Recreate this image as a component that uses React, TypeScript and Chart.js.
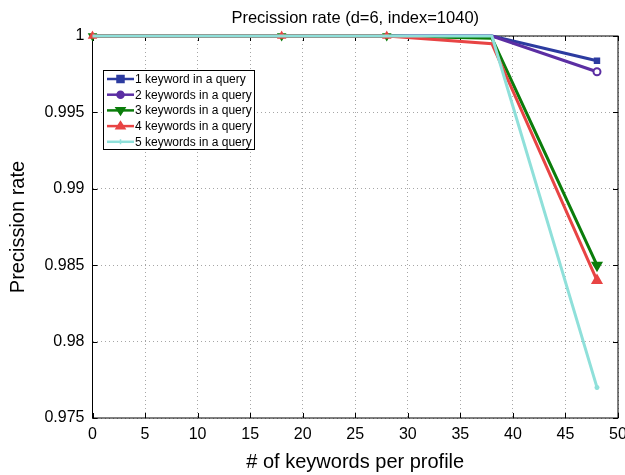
import React, { useEffect, useRef } from "react";
import { Chart, registerables } from "chart.js";

Chart.register(...registerables);

const xValues = [0, 18, 28, 38, 48];
const seriesLabels = [
  "1 keyword in a query",
  "2 keywords in a query",
  "3 keywords in a query",
  "4 keywords in a query",
  "5 keywords in a query",
];
const series1 = [1, 1, 1, 1, 0.99838];
const series2 = [1, 1, 1, 1, 0.99766];
const series3 = [1, 1, 1, 0.99985, 0.985];
const series4 = [1, 1, 1, 0.9995, 0.984];
const series5 = [1, 1, 1, 1, 0.977];
const xTicks = [0, 5, 10, 15, 20, 25, 30, 35, 40, 45, 50];
const yTicks = [0.975, 0.98, 0.985, 0.99, 0.995, 1];
const chartTitle = "Precission rate (d=6, index=1040)";

const allSeries = [series1, series2, series3, series4, series5];
const colors = ["#2c3ba0", "#5b2ea3", "#0b7d0b", "#e84444", "#8fe0da"];
const fills = ["#2c3ba0", "#ffffff", "#0b7d0b", "#e84444", "#8fe0da"];
const styles = ["rect", "circle", "triangle", "triangle", "star"];
const rotations = [0, 0, 180, 0, 0];
const legendRadii = [4, 4, 5, 5, 3];
const pointRadii = [
  [0, 0, 0, 0, 3.5],
  [0, 0, 0, 0, 3.5],
  [4, 4, 4, 0, 5.5],
  [4, 4, 4, 0, 5.5],
  [0, 0, 0, 0, 2.5],
];

const FONT = "'Liberation Sans', Arial, sans-serif";

function drawMarker(ctx: CanvasRenderingContext2D, i: number, x: number, y: number) {
  ctx.save();
  ctx.fillStyle = i === 1 ? colors[1] : fills[i];
  ctx.strokeStyle = colors[i];
  ctx.lineWidth = 1.5;
  const r = legendRadii[i] - 0.5;
  ctx.beginPath();
  if (i === 0) {
    ctx.rect(x - r, y - r, 2 * r, 2 * r);
  } else if (i === 1) {
    ctx.arc(x, y, r, 0, Math.PI * 2);
  } else if (i === 2) {
    ctx.moveTo(x - r, y - r * 0.6);
    ctx.lineTo(x + r, y - r * 0.6);
    ctx.lineTo(x, y + r);
    ctx.closePath();
  } else if (i === 3) {
    ctx.moveTo(x - r, y + r * 0.6);
    ctx.lineTo(x + r, y + r * 0.6);
    ctx.lineTo(x, y - r);
    ctx.closePath();
  } else {
    ctx.moveTo(x - r, y);
    ctx.lineTo(x + r, y);
    ctx.moveTo(x, y - r);
    ctx.lineTo(x, y + r);
  }
  ctx.fill();
  ctx.stroke();
  ctx.restore();
}

const boxPlugin = {
  id: "boxPlugin",
  beforeDatasetsDraw(chart: any) {
    const { ctx, chartArea } = chart;
    const { left, right, top, bottom } = chartArea;
    ctx.save();
    ctx.strokeStyle = "#000";
    ctx.lineWidth = 1;
    ctx.strokeRect(left, top, right - left, bottom - top);
    const xs = chart.scales.x;
    const ys = chart.scales.y;
    ctx.beginPath();
    xTicks.forEach((v) => {
      const px = Math.round(xs.getPixelForValue(v)) + 0.5;
      ctx.moveTo(px, bottom);
      ctx.lineTo(px, bottom - 5);
      ctx.moveTo(px, top);
      ctx.lineTo(px, top + 5);
    });
    yTicks.forEach((v) => {
      const py = Math.round(ys.getPixelForValue(v)) + 0.5;
      ctx.moveTo(left, py);
      ctx.lineTo(left + 5, py);
      ctx.moveTo(right, py);
      ctx.lineTo(right - 5, py);
    });
    ctx.stroke();
    ctx.restore();
  },
  afterDraw(chart: any) {
    const ctx: CanvasRenderingContext2D = chart.ctx;
    const { left, right } = chart.chartArea;
    ctx.save();
    ctx.font = `16.5px ${FONT}`;
    ctx.fillStyle = "#000";
    ctx.textAlign = "center";
    ctx.textBaseline = "middle";
    ctx.fillText(chartTitle, (left + right) / 2, 18);

    const bx = 103.5;
    const by = 70.5;
    const bw = 151;
    const bh = 79;
    ctx.fillStyle = "#fff";
    ctx.fillRect(bx, by, bw, bh);
    ctx.strokeStyle = "#000";
    ctx.lineWidth = 1;
    ctx.strokeRect(bx, by, bw, bh);
    ctx.font = `12px ${FONT}`;
    ctx.textBaseline = "middle";
    ctx.textAlign = "left";
    seriesLabels.forEach((lab, i) => {
      const y = 79 + i * 15.7;
      ctx.strokeStyle = colors[i];
      ctx.lineWidth = 2.5;
      ctx.beginPath();
      ctx.moveTo(107, y);
      ctx.lineTo(134, y);
      ctx.stroke();
      drawMarker(ctx, i, 120.5, y);
      ctx.fillStyle = "#000";
      ctx.fillText(lab, 135, y + 0.5);
    });
    ctx.restore();
  },
};

export default function App() {
  const ref = useRef<HTMLCanvasElement | null>(null);
  useEffect(() => {
    document.body.style.margin = "0";
    Chart.defaults.font.family = FONT;
    const canvas = ref.current;
    if (!canvas) return;
    const datasets = allSeries.map((s, i) => ({
      label: seriesLabels[i],
      data: xValues.map((x, j) => ({ x, y: s[j] })),
      borderColor: colors[i],
      backgroundColor: fills[i],
      pointBackgroundColor: fills[i],
      pointBorderColor: colors[i],
      pointBorderWidth: i === 1 ? 2 : 1.5,
      pointStyle: styles[i],
      pointRotation: rotations[i],
      pointRadius: pointRadii[i],
      borderWidth: 3,
      tension: 0,
      fill: false,
      clip: false as any,
      order: 5 - i,
    }));
    const chart = new Chart(canvas, {
      type: "line",
      data: { datasets },
      plugins: [boxPlugin],
      options: {
        animation: false,
        responsive: false,
        maintainAspectRatio: false,
        events: [],
        layout: { padding: { left: 0, right: 7, top: 36, bottom: 0 } },
        plugins: {
          legend: { display: false },
          tooltip: { enabled: false },
          title: { display: false },
        },
        scales: {
          x: {
            type: "linear",
            min: 0,
            max: 50,
            afterBuildTicks: (s: any) => {
              s.ticks = xTicks.map((v) => ({ value: v }));
            },
            ticks: {
              color: "#000",
              font: { size: 16, family: FONT },
              padding: 7,
              maxRotation: 0,
              autoSkip: false,
            },
            grid: { color: "rgba(0,0,0,0.35)", drawTicks: false, lineWidth: 1 },
            border: { display: false, dash: [1, 3] },
            title: {
              display: true,
              text: "# of keywords per profile",
              color: "#000",
              font: { size: 20, family: FONT },
              padding: { top: 0, bottom: 1 },
            },
            afterFit: (s: any) => {
              s.height = 57;
              s.paddingLeft = 0;
              s.paddingRight = 0;
            },
          },
          y: {
            type: "linear",
            min: 0.975,
            max: 1,
            afterBuildTicks: (s: any) => {
              s.ticks = yTicks.map((v) => ({ value: v }));
            },
            ticks: {
              color: "#000",
              font: { size: 16, family: FONT },
              padding: 8,
              autoSkip: false,
              callback: (v: any) => String(Number(Number(v).toFixed(3))),
            },
            grid: { color: "rgba(0,0,0,0.35)", drawTicks: false, lineWidth: 1 },
            border: { display: false, dash: [1, 3] },
            title: {
              display: true,
              text: "Precission rate",
              color: "#000",
              font: { size: 20, family: FONT },
              padding: { top: 6, bottom: 0 },
            },
            afterFit: (s: any) => {
              s.width = 92.5;
              s.paddingTop = 0;
              s.paddingBottom = 0;
            },
          },
        },
      },
    } as any);
    return () => chart.destroy();
  }, []);
  return (
    <div style={{ width: 625, height: 475 }}>
      <canvas ref={ref} width={625} height={475} />
    </div>
  );
}
